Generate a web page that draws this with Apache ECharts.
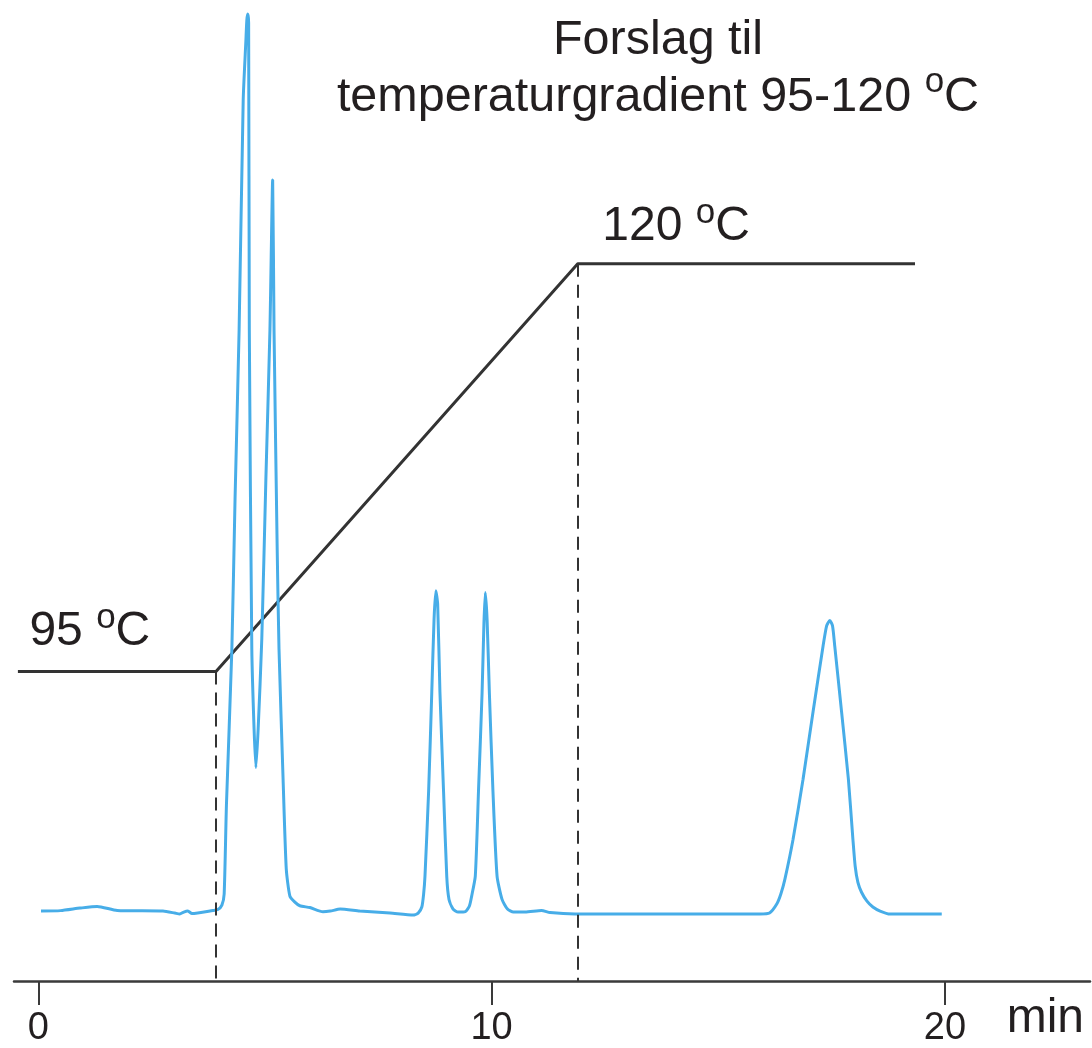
<!DOCTYPE html>
<html>
<head>
<meta charset="utf-8">
<script src="https://cdn.jsdelivr.net/npm/echarts@6/dist/echarts.min.js"></script>
<style>
  html, body { margin: 0; padding: 0; background: #ffffff; }
  #chart { width: 1092px; height: 1048px; }
</style>
</head>
<body>
<div id="chart"></div>
<script>
// Chromatogram: retention time (min) and detector signal
const chromTime = [
  0.06, 0.49, 0.92, 1.30, 1.74, 2.75, 3.01, 3.12, 3.21, 3.30, 3.39, 3.85, 3.96,
  4.05, 4.10, 4.15, 4.27, 4.34, 4.43, 4.52, 4.58, 4.60, 4.62, 4.64, 4.655, 4.71, 4.76, 4.80,
  4.85, 4.93, 5.02, 5.11, 5.17, 5.20, 5.27, 5.31, 5.40, 5.47, 5.55, 5.66, 5.77, 5.99,
  6.28, 6.44, 6.66, 7.09, 7.76, 8.27, 8.38, 8.46, 8.50, 8.53, 8.61, 8.68, 8.73, 8.77,
  8.81, 8.86, 8.94, 9.01, 9.06, 9.15, 9.26, 9.42, 9.51, 9.56, 9.64, 9.71, 9.79, 9.83,
  9.86, 9.90, 9.95, 10.03, 10.12, 10.23, 10.35, 10.48, 10.74, 11.10, 11.29, 11.84,
  15.92, 16.13, 16.29, 16.38, 16.47, 16.65, 16.87, 17.09, 17.31, 17.39, 17.46, 17.52,
  17.57, 17.72, 17.87, 17.97, 18.02, 18.08, 18.16, 18.28, 18.41, 18.57, 18.79, 19.93
];
const chromSignal = [
  0.0, 0.05, 0.33, 0.52, 0.06, 0.0, -0.22, -0.33, -0.11, 0.0, -0.28, 0.06, 0.17,
  0.67, 1.9, 11.8, 29.2, 45.9, 64.8, 90.4, 97.1, 99.3, 100.0, 99.0, 64.8, 29.2, 20.3, 16.0,
  20.3, 30.3, 48.1, 64.8, 81.5, 64.8, 40.3, 29.2, 14.7, 4.7, 1.67, 1.0, 0.59, 0.39,
  -0.08, 0.0, 0.22, 0.0, -0.22, -0.45, -0.22, 0.45, 1.9, 3.9, 13.3, 24.4, 32.5, 35.7,
  34.2, 24.4, 13.3, 3.9, 1.3, 0.22, -0.11, -0.06, 0.56, 1.67, 3.9, 13.3, 24.4, 32.0,
  35.5, 32.5, 24.4, 13.3, 3.9, 1.3, 0.22, -0.11, -0.11, 0.06, -0.17, -0.33,
  -0.33, -0.22, 0.78, 1.9, 3.56, 8.0, 14.7, 22.2, 29.5, 31.8, 32.4, 31.8,
  29.5, 22.2, 14.7, 8.0, 5.0, 3.2, 2.1, 1.1, 0.45, 0.0, -0.33, -0.33
];

// Oven temperature programme (min, °C)
const tempTime = [-0.45, 3.92, 11.9, 19.34];
const tempValue = [95, 95, 120, 120];

// Start and end of the ramp, marked with dashed guides down to the time axis
const rampTime = [3.92, 11.9];
const rampTemp = [95, 120];

// Time axis ticks
const xTickValues = [0, 10, 20];

// Temperature annotations
const tempLabelTime = [-0.45, 11.9];
const tempLabelValue = [95, 120];
const tempLabelText = ['95', '120'];

const FONT = "'Liberation Sans', Arial, Helvetica, sans-serif";
const INK = '#231f20';
const TEMP_AXIS_MIN = 76.03;

// Normal text plus a small raised "o" used as the degree sign
const degreeRich = (size, supSize, lineGap) => ({
  n: { fontFamily: FONT, fontSize: size, fontWeight: 'normal', color: INK,
       lineHeight: size + lineGap, padding: [9, 0, 0, 0] },
  s: { fontFamily: FONT, fontSize: supSize, fontWeight: 'normal', color: INK,
       lineHeight: 20, verticalAlign: 'top' }
});

const chart = echarts.init(document.getElementById('chart'), null, { renderer: 'canvas' });

chart.setOption({
  animation: false,
  backgroundColor: '#ffffff',
  title: {
    text: '{n|Forslag til}\n{n|temperaturgradient 95-120 }{s|o}{n|C}',
    left: 653,
    textAlign: 'center',
    top: 3,
    textStyle: { fontWeight: 'normal', rich: degreeRich(48.5, 35, 8) }
  },
  grid: { left: 14, right: 2, top: 0, bottom: 66, containLabel: false },
  xAxis: {
    type: 'value',
    min: -0.536,
    max: 23.2,
    name: 'min',
    nameLocation: 'end',
    nameGap: -6,
    nameTextStyle: {
      fontFamily: FONT, fontSize: 48, color: INK,
      align: 'right', verticalAlign: 'top', padding: [14, 0, 0, 0]
    },
    axisLine: { show: true, onZero: false, lineStyle: { color: '#3a3a3a', width: 2.5 } },
    axisTick: { show: true, inside: false, length: 24, customValues: xTickValues,
      lineStyle: { color: '#3a3a3a', width: 2 } },
    axisLabel: { show: true, customValues: xTickValues, margin: 29,
      fontFamily: FONT, fontSize: 38, color: INK },
    splitLine: { show: false }
  },
  yAxis: [
    { type: 'value', min: -7.795, max: 101.56, show: false },
    { type: 'value', min: TEMP_AXIS_MIN, max: 136.17, show: false }
  ],
  series: [
    {
      name: 'Signal',
      type: 'line',
      yAxisIndex: 0,
      data: chromTime.map((t, i) => [t, chromSignal[i]]),
      showSymbol: false,
      smooth: 0.2,
      lineStyle: { color: '#47ade8', width: 3 },
      z: 3
    },
    {
      name: 'Temperatur',
      type: 'line',
      yAxisIndex: 1,
      data: tempTime.map((t, i) => [t, tempValue[i]]),
      showSymbol: false,
      lineStyle: { color: '#333333', width: 3 },
      z: 2,
      markLine: {
        silent: true,
        symbol: ['none', 'none'],
        label: { show: false },
        lineStyle: { color: '#333333', width: 2, type: [13, 8] },
        data: rampTime.map((t, i) => [
          { coord: [t, rampTemp[i]] },
          { coord: [t, TEMP_AXIS_MIN] }
        ])
      }
    },
    {
      name: 'Temperaturetiketter',
      type: 'scatter',
      yAxisIndex: 1,
      symbolSize: 1,
      itemStyle: { color: 'rgba(0,0,0,0)', opacity: 1 },
      silent: true,
      data: tempLabelTime.map((t, i) => ({
        value: [t, tempLabelValue[i]],
        label: {
          show: true,
          position: i === 0 ? [12, -70] : [25, -67],
          formatter: '{n|' + tempLabelText[i] + ' }{s|o}{n|C}',
          rich: degreeRich(48, 35, 4)
        }
      }))
    }
  ]
});
</script>
</body>
</html>
